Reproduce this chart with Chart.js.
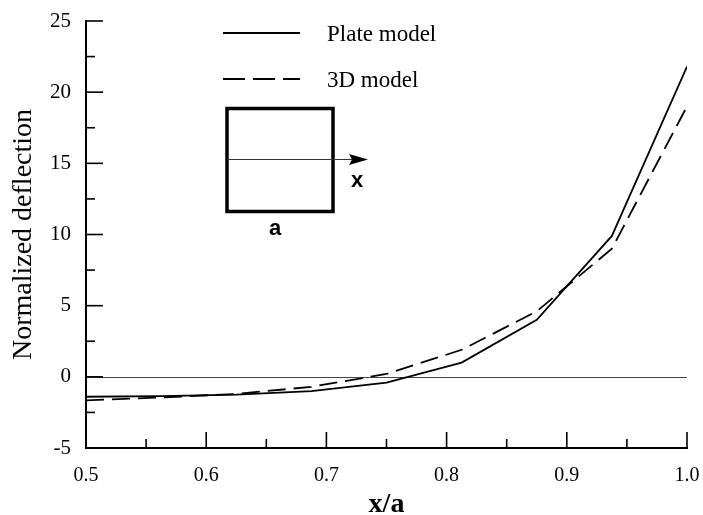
<!DOCTYPE html>
<html>
<head>
<meta charset="utf-8">
<script src="https://cdn.jsdelivr.net/npm/chart.js@4/dist/chart.umd.min.js"></script>
<style>
  html, body { margin: 0; padding: 0; background: #fff; }
  #wrap { width: 703px; height: 515px; }
</style>
</head>
<body>
<div id="wrap"><canvas id="c" width="703" height="515"></canvas></div>
<script>
// ---- data ----
const xPositions = [0.5, 0.5625, 0.625, 0.6875, 0.75, 0.8125, 0.875, 0.9375, 1.0];
const plateModel = [-1.4, -1.35, -1.25, -1.0, -0.4, 1.0, 4.0, 9.9, 21.8];
const model3D   = [-1.65, -1.45, -1.2, -0.7, 0.2, 1.9, 4.6, 9.0, 19.0];
const seriesNames = ['Plate model', '3D model'];
const xTickValues = [0.5, 0.6, 0.7, 0.8, 0.9, 1.0];
const yTickValues = [-5, 0, 5, 10, 15, 20, 25];
const xMinorTicks = [0.55, 0.65, 0.75, 0.85, 0.95];
const yMinorTicks = [-2.5, 2.5, 7.5, 12.5, 17.5, 22.5];
const xTitle = 'x/a';
const yTitle = 'Normalized deflection';

const toPoints = (xs, ys) => xs.map((x, i) => ({ x: x, y: ys[i] }));

const serif = "'Liberation Serif', 'Times New Roman', serif";
const sans = "'Liberation Sans', Arial, sans-serif";

const decorPlugin = {
  id: 'decor',
  beforeDatasetsDraw(chart) {
    const { ctx, chartArea, scales } = chart;
    const y0 = Math.round(scales.y.getPixelForValue(0)) + 0.5;
    ctx.save();
    ctx.strokeStyle = '#444';
    ctx.lineWidth = 1;
    ctx.beginPath();
    ctx.moveTo(chartArea.left, y0);
    ctx.lineTo(chartArea.right, y0);
    ctx.stroke();
    ctx.restore();
  },
  afterDraw(chart) {
    const { ctx, chartArea, scales } = chart;
    const xs = scales.x, ys = scales.y;
    ctx.save();
    ctx.strokeStyle = '#000';
    ctx.lineWidth = 1.6;
    // inward y ticks
    const drawY = (v, len) => {
      const p = ys.getPixelForValue(v);
      ctx.beginPath();
      ctx.moveTo(chartArea.left, p);
      ctx.lineTo(chartArea.left + len, p);
      ctx.stroke();
    };
    yTickValues.forEach(v => drawY(v, 17));
    yMinorTicks.forEach(v => drawY(v, 9));
    // inward x ticks
    const drawX = (v, len) => {
      const p = xs.getPixelForValue(v);
      ctx.beginPath();
      ctx.moveTo(p, chartArea.bottom);
      ctx.lineTo(p, chartArea.bottom - len);
      ctx.stroke();
    };
    xTickValues.forEach(v => drawX(v, 16));
    xMinorTicks.forEach(v => drawX(v, 9));

    // legend
    ctx.lineWidth = 2;
    ctx.beginPath();
    ctx.moveTo(223, 33); ctx.lineTo(300, 33);
    ctx.stroke();
    ctx.setLineDash([22, 8]);
    ctx.beginPath();
    ctx.moveTo(223, 79); ctx.lineTo(300, 79);
    ctx.stroke();
    ctx.setLineDash([]);
    ctx.fillStyle = '#000';
    ctx.font = '23px ' + serif;
    ctx.textAlign = 'left';
    ctx.textBaseline = 'alphabetic';
    ctx.fillText(seriesNames[0], 327, 41);
    ctx.fillText(seriesNames[1], 327, 87);

    // inset sketch
    ctx.lineWidth = 3.5;
    ctx.strokeRect(227, 108.5, 106, 103);
    ctx.lineWidth = 1;
    ctx.strokeStyle = '#333';
    ctx.beginPath();
    ctx.moveTo(227, 159.5); ctx.lineTo(352, 159.5);
    ctx.stroke();
    ctx.beginPath();
    ctx.moveTo(368, 159.5);
    ctx.lineTo(349, 154);
    ctx.lineTo(352, 159.5);
    ctx.lineTo(349, 165);
    ctx.closePath();
    ctx.fill();
    ctx.font = 'bold 22px ' + sans;
    ctx.textAlign = 'center';
    ctx.fillText('x', 357, 187);
    ctx.fillText('a', 275, 235);
    ctx.restore();
  }
};

new Chart(document.getElementById('c'), {
  type: 'line',
  data: {
    datasets: [
      {
        label: seriesNames[0],
        data: toPoints(xPositions, plateModel),
        borderColor: '#000',
        borderWidth: 1.8,
        pointRadius: 0,
        tension: 0,
        fill: false
      },
      {
        label: seriesNames[1],
        data: toPoints(xPositions, model3D),
        borderColor: '#000',
        borderWidth: 1.8,
        borderDash: [18, 8],
        pointRadius: 0,
        tension: 0,
        fill: false
      }
    ]
  },
  options: {
    responsive: false,
    animation: false,
    events: [],
    layout: { padding: { top: 21, right: 16, left: 0, bottom: 0 } },
    plugins: {
      legend: { display: false },
      tooltip: { enabled: false }
    },
    scales: {
      x: {
        type: 'linear',
        min: 0.5,
        max: 1.0,
        afterFit(scale) { scale.height = 67; scale.paddingLeft = 0; scale.paddingRight = 0; },
        afterBuildTicks(scale) { scale.ticks = xTickValues.map(v => ({ value: v })); },
        grid: { display: true, drawOnChartArea: false, drawTicks: false },
        border: { display: true, color: '#000', width: 2 },
        ticks: {
          autoSkip: false,
          maxRotation: 0,
          padding: 16,
          color: '#000',
          font: { family: serif, size: 20 },
          callback: v => Number(v).toFixed(1)
        },
        title: {
          display: true,
          text: xTitle,
          color: '#000',
          font: { family: serif, size: 28, weight: 'bold', lineHeight: 1.0 },
          padding: { top: 0, bottom: -4 }
        }
      },
      y: {
        type: 'linear',
        min: -5,
        max: 25,
        afterFit(scale) { scale.width = 86; scale.paddingTop = 0; scale.paddingBottom = 0; },
        afterBuildTicks(scale) { scale.ticks = yTickValues.map(v => ({ value: v })); },
        grid: { display: true, drawOnChartArea: false, drawTicks: false },
        border: { display: true, color: '#000', width: 2 },
        ticks: {
          padding: 15,
          color: '#000',
          font: { family: serif, size: 21 },
          callback: v => String(v)
        },
        title: {
          display: true,
          text: yTitle,
          color: '#000',
          font: { family: serif, size: 28, lineHeight: 1.2 },
          padding: { top: 7, bottom: 0 }
        }
      }
    }
  },
  plugins: [decorPlugin]
});
</script>
</body>
</html>
